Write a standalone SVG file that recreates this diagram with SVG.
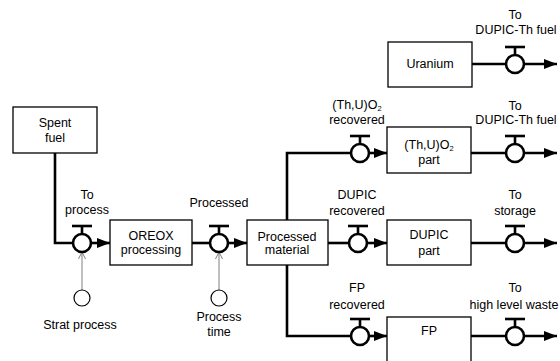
<svg xmlns="http://www.w3.org/2000/svg" xmlns:xlink="http://www.w3.org/1999/xlink" width="560" height="361" viewBox="0 0 560 361">
<style>
.box{fill:#fff;stroke:#000;stroke-width:1.3}
.t{font-family:"Liberation Sans",Arial,sans-serif;font-size:12.5px;fill:#000;text-anchor:middle}
.flow{fill:none;stroke:#000;stroke-width:2.6}
.info{fill:none;stroke:#808080;stroke-width:1}
.vc{fill:#fff;stroke:#000;stroke-width:2.6}
.aux{fill:#fff;stroke:#000;stroke-width:1.2}
</style>
<defs>
<marker id="ah" markerUnits="userSpaceOnUse" markerWidth="14" markerHeight="12" refX="13" refY="6" orient="auto">
<path d="M0,1 L13,6 L0,11 Z" fill="#000"/>
</marker>
<marker id="ia" markerUnits="userSpaceOnUse" markerWidth="8" markerHeight="8" refX="7" refY="4" orient="auto">
<path d="M0,0.5 L7,4 L0,7.5" fill="none" stroke="#808080" stroke-width="1"/>
</marker>
<g id="valve">
<line x1="0" y1="-9" x2="0" y2="-17" stroke="#000" stroke-width="2.6"/>
<line x1="-10" y1="-17" x2="10" y2="-17" stroke="#000" stroke-width="2.6"/>
<circle r="9" class="vc"/>
</g>
</defs>
<rect width="560" height="361" fill="#fff"/>

<g id="connectors">
<path class="flow" d="M55,153 V243 H73"/>
<line class="flow" x1="91" y1="243" x2="110" y2="243" marker-end="url(#ah)"/>
<line class="flow" x1="192" y1="243" x2="210" y2="243"/>
<line class="flow" x1="228" y1="243" x2="247" y2="243" marker-end="url(#ah)"/>
<line class="flow" x1="328" y1="243" x2="349" y2="243"/>
<line class="flow" x1="367" y1="243" x2="387" y2="243" marker-end="url(#ah)"/>
<line class="flow" x1="471" y1="243" x2="506" y2="243"/>
<line class="flow" x1="524" y1="243" x2="557" y2="243" marker-end="url(#ah)"/>
<path class="flow" d="M351,153 H287 V336 H351"/>
<line class="flow" x1="369" y1="153" x2="387" y2="153" marker-end="url(#ah)"/>
<line class="flow" x1="369" y1="336" x2="387" y2="336" marker-end="url(#ah)"/>
<line class="flow" x1="471" y1="153" x2="506" y2="153"/>
<line class="flow" x1="524" y1="153" x2="557" y2="153" marker-end="url(#ah)"/>
<line class="flow" x1="471" y1="336" x2="506" y2="336"/>
<line class="flow" x1="524" y1="336" x2="557" y2="336" marker-end="url(#ah)"/>
<line class="flow" x1="472" y1="64" x2="506" y2="64"/>
<line class="flow" x1="524" y1="64" x2="557" y2="64" marker-end="url(#ah)"/>
<line class="info" x1="82" y1="290" x2="82" y2="252" marker-end="url(#ia)"/>
<line class="info" x1="219" y1="290" x2="219" y2="252" marker-end="url(#ia)"/>
</g>

<g id="spent-fuel">
<rect class="box" x="13" y="107" width="84" height="46"/>
<text class="t" x="55" y="127">Spent</text>
<text class="t" x="55" y="142">fuel</text>
</g>
<g id="valve-to-process">
<use xlink:href="#valve" x="82" y="243"/>
<text class="t" x="87" y="199">To</text>
<text class="t" x="87" y="214">process</text>
</g>
<g id="strat-process">
<circle class="aux" cx="82" cy="298" r="8"/>
<text class="t" x="80" y="329">Strat process</text>
</g>
<g id="oreox">
<rect class="box" x="110" y="220" width="82" height="45"/>
<text class="t" x="151" y="240">OREOX</text>
<text class="t" x="151" y="254">processing</text>
</g>
<g id="valve-processed">
<use xlink:href="#valve" x="219" y="243"/>
<text class="t" x="219" y="207">Processed</text>
</g>
<g id="process-time">
<circle class="aux" cx="219" cy="298" r="8"/>
<text class="t" x="219" y="321">Process</text>
<text class="t" x="219" y="336">time</text>
</g>
<g id="processed-material">
<rect class="box" x="247" y="220" width="81" height="45"/>
<text class="t" x="287" y="241">Processed</text>
<text class="t" x="287" y="254">material</text>
</g>
<g id="uranium">
<rect class="box" x="388" y="42" width="84" height="45"/>
<text class="t" x="430" y="68">Uranium</text>
</g>
<g id="valve-uranium-out">
<use xlink:href="#valve" x="515" y="64"/>
<text class="t" x="515" y="19">To</text>
<text class="t" x="516" y="34">DUPIC-Th fuel</text>
</g>
<g id="valve-thu-recovered">
<use xlink:href="#valve" x="360" y="153"/>
<text class="t" x="357" y="109">(Th,U)O<tspan font-size="7.5" dy="2">2</tspan></text>
<text class="t" x="357" y="124">recovered</text>
</g>
<g id="thu-part">
<rect class="box" x="387" y="127" width="84" height="46"/>
<text class="t" x="429" y="149">(Th,U)O<tspan font-size="7.5" dy="2">2</tspan></text>
<text class="t" x="429" y="164">part</text>
</g>
<g id="valve-thu-out">
<use xlink:href="#valve" x="515" y="153"/>
<text class="t" x="515" y="110">To</text>
<text class="t" x="516" y="124">DUPIC-Th fuel</text>
</g>
<g id="valve-dupic-recovered">
<use xlink:href="#valve" x="358" y="243"/>
<text class="t" x="357" y="199">DUPIC</text>
<text class="t" x="357" y="215">recovered</text>
</g>
<g id="dupic-part">
<rect class="box" x="387" y="220" width="84" height="45"/>
<text class="t" x="429" y="239">DUPIC</text>
<text class="t" x="429" y="255">part</text>
</g>
<g id="valve-storage">
<use xlink:href="#valve" x="515" y="243"/>
<text class="t" x="515" y="199">To</text>
<text class="t" x="515" y="215">storage</text>
</g>
<g id="valve-fp-recovered">
<use xlink:href="#valve" x="360" y="336"/>
<text class="t" x="357" y="292">FP</text>
<text class="t" x="357" y="309">recovered</text>
</g>
<g id="fp">
<rect class="box" x="387" y="317" width="84" height="50"/>
<text class="t" x="429" y="335">FP</text>
</g>
<g id="valve-hlw">
<use xlink:href="#valve" x="515" y="336"/>
<text class="t" x="515" y="292">To</text>
<text class="t" x="514" y="309">high level waste</text>
</g>
</svg>
